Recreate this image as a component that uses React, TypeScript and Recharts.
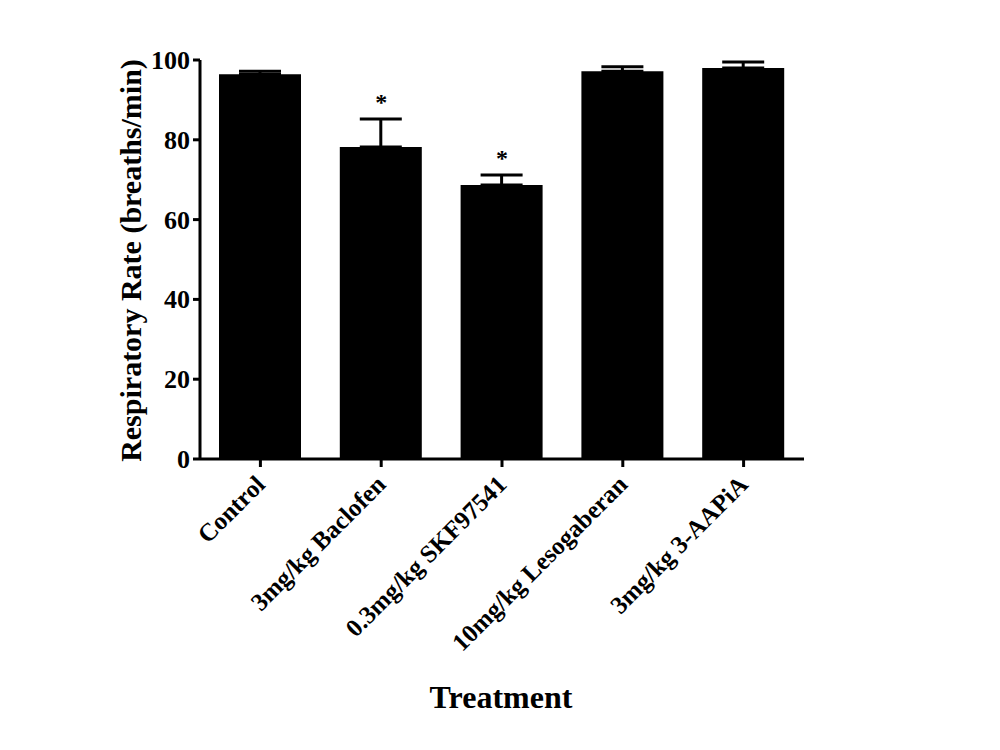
import React from "react";
import { ComposedChart, Bar, ErrorBar, Scatter, XAxis, YAxis } from "recharts";

const categories = ["Control", "3mg/kg Baclofen", "0.3mg/kg SKF97541", "10mg/kg Lesogaberan", "3mg/kg 3-AAPiA"];
const means = [96.4, 78.2, 68.7, 97.2, 98.0];
const sems = [0.8, 7.0, 2.5, 1.1, 1.5];
const significant = [false, true, true, false, false];
const yTicks = [0, 20, 40, 60, 80, 100];

const data = categories.map((name, i) => ({
  name,
  mean: means[i],
  errUp: [0, sems[i]],
  top: means[i] + sems[i],
  sig: significant[i],
}));

const FONT = '"Liberation Serif", "Times New Roman", serif';

const XTick = (props: any) => {
  const { x, y, payload } = props;
  const tx = x + 6;
  const ty = y + 17;
  return (
    <text
      x={tx}
      y={ty}
      transform={`rotate(-45, ${tx}, ${ty})`}
      textAnchor="end"
      fontFamily={FONT}
      fontWeight="bold"
      fontSize={25}
      fill="#000"
    >
      {payload.value}
    </text>
  );
};

const YTick = (props: any) => {
  const { x, y, payload } = props;
  return (
    <text
      x={x - 1}
      y={y}
      dy={9}
      textAnchor="end"
      fontFamily={FONT}
      fontWeight="bold"
      fontSize={26}
      fill="#000"
    >
      {payload.value}
    </text>
  );
};

const YLabel = (props: any) => {
  const vb = props.viewBox;
  const x = vb.x + 141;
  const y = vb.y + vb.height / 2 + 1;
  return (
    <text
      x={x}
      y={y}
      transform={`rotate(-90, ${x}, ${y})`}
      textAnchor="middle"
      fontFamily={FONT}
      fontWeight="bold"
      fontSize={30}
      fill="#000"
    >
      Respiratory Rate (breaths/min)
    </text>
  );
};

const XLabel = (props: any) => {
  const vb = props.viewBox;
  return (
    <text
      x={vb.x + vb.width / 2 - 1}
      y={708}
      textAnchor="middle"
      fontFamily={FONT}
      fontWeight="bold"
      fontSize={32}
      fill="#000"
    >
      Treatment
    </text>
  );
};

const Star = (props: any) => {
  const { cx, cy, payload } = props;
  if (!payload || !payload.sig) return <g />;
  return (
    <text
      x={cx}
      y={cy - 9}
      textAnchor="middle"
      fontFamily={FONT}
      fontWeight="bold"
      fontSize={24}
      fill="#000"
    >
      *
    </text>
  );
};

export default function App() {
  return (
    <div style={{ position: "absolute", left: 0, top: 0, width: 1000, height: 750, background: "#fff" }}>
      <ComposedChart
        width={1000}
        height={750}
        data={data}
        margin={{ top: 60, right: 196, left: 0, bottom: 0 }}
      >
        <XAxis
          dataKey="name"
          type="category"
          height={291}
          axisLine={{ stroke: "#000", strokeWidth: 3 }}
          tickLine={{ stroke: "#000", strokeWidth: 3 }}
          tickSize={8}
          tick={<XTick />}
          interval={0}
          label={<XLabel />}
        />
        <YAxis
          width={200}
          domain={[0, 100]}
          ticks={yTicks}
          axisLine={{ stroke: "#000", strokeWidth: 3 }}
          tickLine={{ stroke: "#000", strokeWidth: 3 }}
          tickSize={7}
          tick={<YTick />}
          interval={0}
          label={<YLabel />}
        />
        <Bar dataKey="mean" fill="#000" barSize={82} isAnimationActive={false}>
          <ErrorBar dataKey="errUp" width={21} stroke="#000" strokeWidth={3} direction="y" />
        </Bar>
        <Scatter dataKey="top" shape={<Star />} isAnimationActive={false} />
      </ComposedChart>
    </div>
  );
}
